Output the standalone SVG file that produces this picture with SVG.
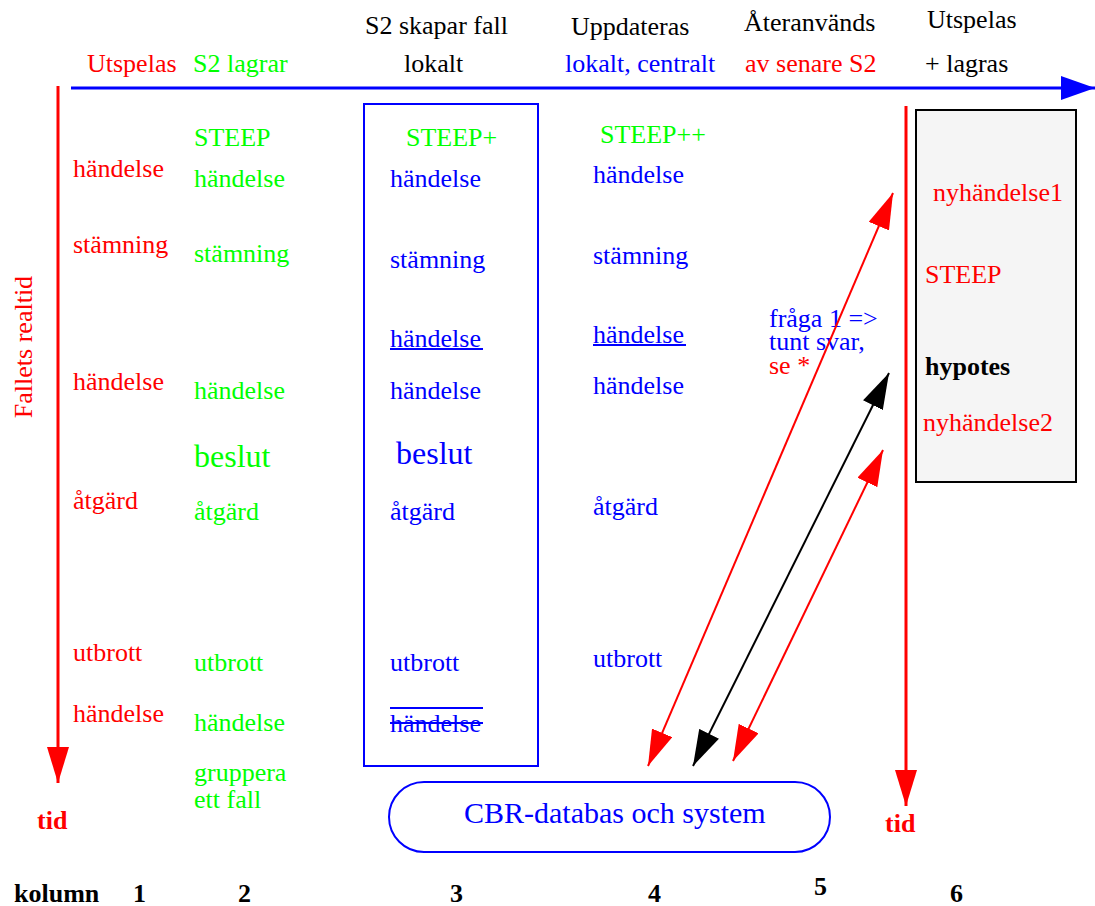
<svg xmlns="http://www.w3.org/2000/svg" width="1095" height="906" viewBox="0 0 1095 906">
<style>
text{font-family:"Liberation Serif","Times New Roman",serif;font-size:26px}
.r{fill:#ff0000}.g{fill:#00ff00}.b{fill:#0000ff}.k{fill:#000}
.bold{font-weight:bold}
.big{font-size:32px}
.cbr{font-size:30px}
</style>
<defs>
<marker id="ar" viewBox="0 0 36 22" refX="36" refY="11" markerWidth="36" markerHeight="22" markerUnits="userSpaceOnUse" orient="auto-start-reverse"><path d="M0,0 L36,11 L0,22 Z" fill="#ff0000"/></marker>
<marker id="ak" viewBox="0 0 36 22" refX="36" refY="11" markerWidth="36" markerHeight="22" markerUnits="userSpaceOnUse" orient="auto-start-reverse"><path d="M0,0 L36,11 L0,22 Z" fill="#000"/></marker>
<marker id="ab" viewBox="0 0 34 24" refX="34" refY="12" markerWidth="34" markerHeight="24" markerUnits="userSpaceOnUse" orient="auto"><path d="M0,0 L34,12 L0,24 Z" fill="#0000ff"/></marker>
</defs>
<rect width="1095" height="906" fill="#fff"/>

<g id="headers">
<text x="87" y="72" class="r">Utspelas</text>
<text x="193" y="72" class="g">S2 lagrar</text>
<text x="365" y="34" class="k">S2 skapar fall</text>
<text x="404" y="72" class="k">lokalt</text>
<text x="571" y="35" class="k">Uppdateras</text>
<text x="565" y="72" class="b">lokalt, centralt</text>
<text x="744" y="31" class="k">Återanvänds</text>
<text x="745" y="72" class="r">av senare S2</text>
<text x="927" y="28" class="k">Utspelas</text>
<text x="925" y="72" class="k">+ lagras</text>
</g>

<g id="col1">
<text transform="translate(32,347) rotate(-90)" text-anchor="middle" class="r">Fallets realtid</text>
<text x="73" y="177" class="r">händelse</text>
<text x="73" y="253" class="r">stämning</text>
<text x="73" y="390" class="r">händelse</text>
<text x="73" y="509" class="r">åtgärd</text>
<text x="73" y="661" class="r">utbrott</text>
<text x="73" y="722" class="r">händelse</text>
<text x="37" y="829" class="r bold">tid</text>
</g>

<g id="col2">
<text x="194" y="146" class="g">STEEP</text>
<text x="194" y="187" class="g">händelse</text>
<text x="194" y="262" class="g">stämning</text>
<text x="194" y="399" class="g">händelse</text>
<text x="194" y="467" class="g big">beslut</text>
<text x="194" y="520" class="g">åtgärd</text>
<text x="194" y="671" class="g">utbrott</text>
<text x="194" y="731" class="g">händelse</text>
<text x="194" y="781" class="g">gruppera</text>
<text x="194" y="808" class="g">ett fall</text>
</g>

<g id="col3">
<rect x="364" y="104" width="174" height="662" fill="none" stroke="#0000ff" stroke-width="2"/>
<text x="406" y="146" class="g">STEEP+</text>
<text x="390" y="187" class="b">händelse</text>
<text x="390" y="268" class="b">stämning</text>
<text x="390" y="347" class="b">händelse</text>
<line x1="390" y1="349" x2="483" y2="349" stroke="#0000ff" stroke-width="2"/>
<text x="390" y="399" class="b">händelse</text>
<text x="396" y="464" class="b big">beslut</text>
<text x="390" y="520" class="b">åtgärd</text>
<text x="390" y="671" class="b">utbrott</text>
<text x="390" y="732" class="b">händelse</text>
<line x1="390" y1="708" x2="483" y2="708" stroke="#0000ff" stroke-width="2"/>
<line x1="390" y1="723" x2="483" y2="723" stroke="#0000ff" stroke-width="2"/>
</g>

<g id="col4">
<text x="600" y="143" class="g">STEEP++</text>
<text x="593" y="183" class="b">händelse</text>
<text x="593" y="264" class="b">stämning</text>
<text x="593" y="343" class="b">händelse</text>
<line x1="593" y1="345" x2="686" y2="345" stroke="#0000ff" stroke-width="2"/>
<text x="593" y="394" class="b">händelse</text>
<text x="593" y="515" class="b">åtgärd</text>
<text x="593" y="667" class="b">utbrott</text>
</g>

<g id="col5">
<text x="769" y="327" class="b">fråga 1 =&gt;</text>
<text x="769" y="350" class="b">tunt svar,</text>
<text x="769" y="374" class="r">se *</text>
</g>

<g id="col6">
<rect x="916" y="110" width="160" height="372" fill="#f5f5f5" stroke="#000" stroke-width="2"/>
<text x="933" y="201" class="r">nyhändelse1</text>
<text x="925" y="283" class="r">STEEP</text>
<text x="925" y="375" class="k bold">hypotes</text>
<text x="923" y="431" class="r">nyhändelse2</text>
<text x="885" y="832" class="r bold">tid</text>
</g>

<g id="cbr">
<rect x="389" y="782" width="441" height="70" rx="35" ry="35" fill="none" stroke="#0000ff" stroke-width="2"/>
<text x="464" y="823" class="b cbr">CBR-databas och system</text>
</g>

<g id="connectors">
<line x1="71" y1="88" x2="1095" y2="88" stroke="#0000ff" stroke-width="3" marker-end="url(#ab)"/>
<line x1="58" y1="86" x2="58" y2="783" stroke="#ff0000" stroke-width="3" marker-end="url(#ar)"/>
<line x1="906" y1="106" x2="906" y2="806" stroke="#ff0000" stroke-width="3" marker-end="url(#ar)"/>
<line x1="648" y1="766" x2="893" y2="193" stroke="#ff0000" stroke-width="2" marker-start="url(#ar)" marker-end="url(#ar)"/>
<line x1="693" y1="766" x2="889" y2="373" stroke="#000" stroke-width="2" marker-start="url(#ak)" marker-end="url(#ak)"/>
<line x1="733" y1="761" x2="883" y2="450" stroke="#ff0000" stroke-width="2" marker-start="url(#ar)" marker-end="url(#ar)"/>
</g>

<g id="footer">
<text x="14" y="902" class="k bold">kolumn</text>
<text x="133" y="902" class="k bold">1</text>
<text x="238" y="902" class="k bold">2</text>
<text x="450" y="902" class="k bold">3</text>
<text x="648" y="902" class="k bold">4</text>
<text x="814" y="895" class="k bold">5</text>
<text x="950" y="902" class="k bold">6</text>
</g>
</svg>
